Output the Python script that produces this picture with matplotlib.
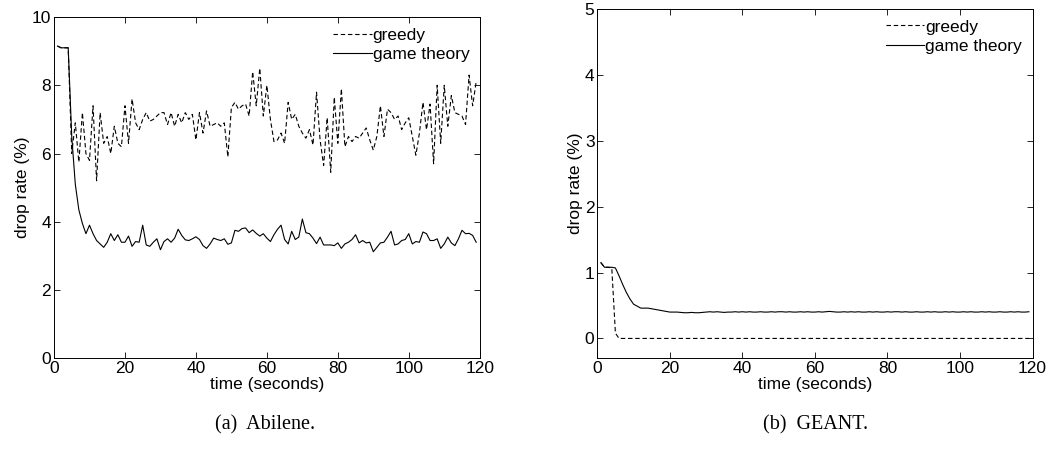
import matplotlib.pyplot as plt
import numpy as np

plt.rcParams['font.family'] = ['Liberation Sans', 'DejaVu Sans']

# time axis (seconds)
time_abilene = np.arange(1, 120)
time_geant = np.arange(1, 120)

# Abilene drop rate (%)
abilene_greedy = [
    9.15, 9.1, 9.1, 9.1, 6.0, 6.9, 5.75, 7.2, 6.0, 5.8,
    7.4, 5.2, 7.2, 6.3, 6.5, 6.0, 6.8, 6.3, 6.2, 7.4,
    6.3, 7.6, 6.9, 6.7, 7.0, 7.2, 6.95, 7.0, 7.1, 7.2,
    7.2, 6.85, 7.2, 6.8, 7.15, 6.9, 7.2, 7.0, 7.15, 6.4,
    7.2, 6.6, 7.25, 6.8, 6.85, 6.9, 6.8, 6.9, 5.9, 7.35,
    7.5, 7.3, 7.4, 7.45, 7.1, 8.4, 7.4, 8.5, 7.1, 8.0,
    7.0, 6.35, 6.4, 6.6, 6.3, 7.5, 7.0, 7.15, 6.8, 6.6,
    6.45, 6.7, 6.25, 7.8, 6.4, 5.65, 7.05, 5.45, 7.65, 6.3,
    7.9, 6.2, 6.5, 6.35, 6.5, 6.45, 6.6, 6.75, 6.4, 6.1,
    6.5, 7.4, 6.5, 7.3, 7.2, 7.0, 7.1, 6.7, 6.9, 7.05,
    6.5, 5.95, 6.6, 7.5, 6.7, 7.45, 5.7, 8.0, 6.3, 8.0,
    6.8, 7.7, 7.2, 7.15, 7.1, 6.85, 8.3, 7.4, 8.1,
]
abilene_game = [
    9.15, 9.1, 9.1, 9.1, 6.5, 5.1, 4.35, 3.95, 3.65, 3.9,
    3.65, 3.45, 3.35, 3.25, 3.4, 3.65, 3.45, 3.62, 3.4, 3.4,
    3.58, 3.28, 3.42, 3.4, 3.9, 3.32, 3.28, 3.4, 3.5, 3.18,
    3.42, 3.5, 3.4, 3.52, 3.78, 3.6, 3.47, 3.45, 3.5, 3.56,
    3.48, 3.3, 3.22, 3.35, 3.52, 3.48, 3.45, 3.5, 3.34, 3.38,
    3.75, 3.72, 3.8, 3.82, 3.68, 3.76, 3.66, 3.58, 3.65, 3.52,
    3.42, 3.62, 3.78, 3.9, 3.48, 3.35, 3.72, 3.48, 3.55, 4.08,
    3.68, 3.65, 3.52, 3.36, 3.55, 3.32, 3.32, 3.32, 3.3, 3.38,
    3.22, 3.35, 3.4, 3.48, 3.62, 3.38, 3.45, 3.38, 3.4, 3.12,
    3.25, 3.38, 3.4, 3.55, 3.72, 3.32, 3.35, 3.45, 3.48, 3.65,
    3.35, 3.42, 3.4, 3.7, 3.65, 3.45, 3.45, 3.5, 3.22, 3.35,
    3.55, 3.38, 3.3, 3.5, 3.75, 3.65, 3.66, 3.6, 3.4,
]

# GEANT drop rate (%)
geant_greedy = [1.15, 1.08, 1.08, 1.07, 0.08] + [0.0] * 114
geant_game = [
    1.15, 1.08, 1.08, 1.08, 1.07, 0.95, 0.82, 0.7, 0.6, 0.52,
    0.49, 0.46, 0.46, 0.46, 0.45, 0.44, 0.43, 0.42, 0.41, 0.40,
    0.40, 0.40, 0.395, 0.39, 0.39, 0.395, 0.39, 0.39, 0.395, 0.40,
    0.405, 0.40, 0.405, 0.40, 0.395, 0.40, 0.40, 0.405, 0.40, 0.405,
    0.40, 0.405, 0.40, 0.40, 0.405, 0.40, 0.40, 0.405, 0.40, 0.405,
    0.405, 0.40, 0.405, 0.40, 0.40, 0.405, 0.40, 0.405, 0.40, 0.40,
    0.405, 0.40, 0.405, 0.41, 0.405, 0.40, 0.40, 0.405, 0.40, 0.405,
    0.40, 0.405, 0.40, 0.40, 0.405, 0.40, 0.405, 0.40, 0.40, 0.405,
    0.40, 0.405, 0.405, 0.40, 0.405, 0.40, 0.40, 0.405, 0.40, 0.40,
    0.405, 0.40, 0.405, 0.40, 0.40, 0.405, 0.40, 0.405, 0.40, 0.40,
    0.405, 0.40, 0.405, 0.40, 0.40, 0.405, 0.40, 0.405, 0.40, 0.40,
    0.405, 0.40, 0.40, 0.405, 0.40, 0.405, 0.40, 0.40, 0.405,
]

series_labels = ['greedy', 'game theory']
captions = ['(a)  Abilene.', '(b)  GEANT.']


def style_axes(ax, ylim, yticks):
    ax.set_xlim(0, 120)
    ax.set_ylim(*ylim)
    ax.set_xticks(np.arange(0, 121, 20))
    ax.set_yticks(yticks)
    ax.tick_params(direction='in', top=True, right=True, labelsize=12.5,
                   length=4, width=0.6, pad=2)
    for sp in ax.spines.values():
        sp.set_linewidth(0.7)
    ax.set_xlabel('time (seconds)', fontsize=12.5, labelpad=1)
    ax.set_ylabel('drop rate (%)', fontsize=12.5, labelpad=1)
    ax.legend(frameon=False, loc='upper right', fontsize=12.5,
              handlelength=2.2, handletextpad=0.05, labelspacing=0.25,
              borderaxespad=0.2)


fig = plt.figure(figsize=(10.59, 4.5), dpi=100)
ax1 = fig.add_axes([0.051, 0.204, 0.402, 0.758])
ax2 = fig.add_axes([0.564, 0.204, 0.411, 0.776])

ax1.plot(time_abilene, abilene_greedy, 'k', ls=(0, (4, 2.5)), lw=0.8, label=series_labels[0])
ax1.plot(time_abilene, abilene_game, 'k', lw=0.8, label=series_labels[1])
style_axes(ax1, (0, 10), np.arange(0, 11, 2))

ax2.plot(time_geant, geant_greedy, 'k', ls=(0, (4, 2.5)), lw=0.8, label=series_labels[0])
ax2.plot(time_geant, geant_game, 'k', lw=0.8, label=series_labels[1])
style_axes(ax2, (-0.3, 5), np.arange(0, 6, 1))

fig.text(0.25, 0.055, captions[0], ha='center', va='center', fontsize=14.5,
         family=['Liberation Serif', 'DejaVu Serif'])
fig.text(0.77, 0.055, captions[1], ha='center', va='center', fontsize=14.5,
         family=['Liberation Serif', 'DejaVu Serif'])

fig.savefig('out.png', dpi=100)
